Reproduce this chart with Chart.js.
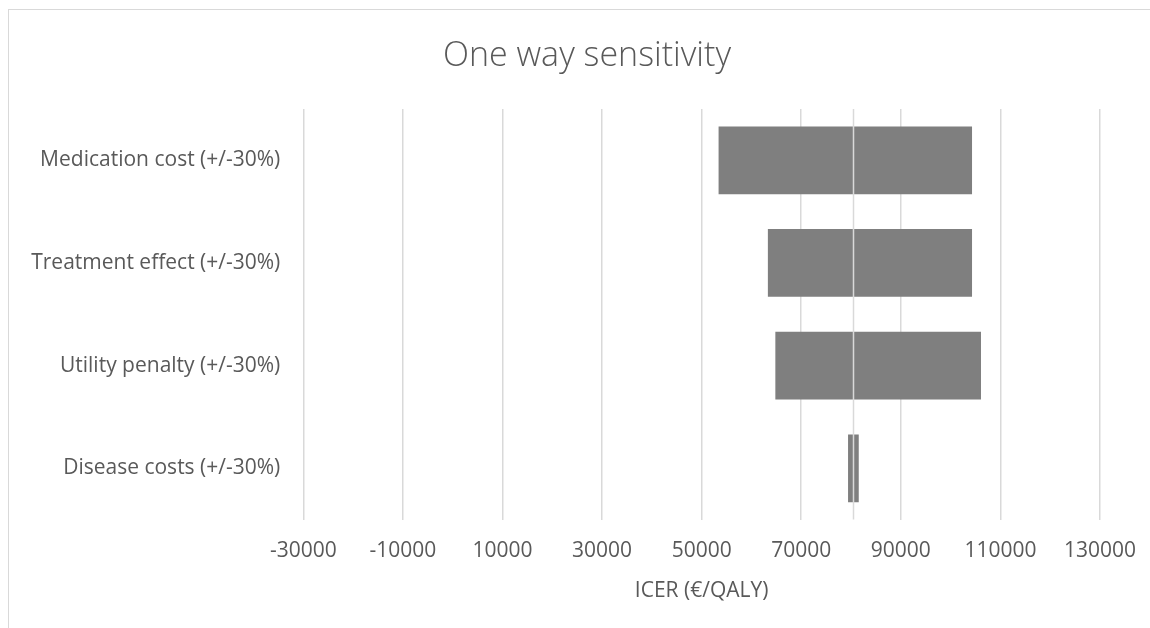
<!DOCTYPE html>
<html>
<head>
<meta charset="utf-8">
<script src="https://cdn.jsdelivr.net/npm/chart.js@4.4.1/dist/chart.umd.min.js"></script>
<style>
  html, body { margin: 0; padding: 0; background: #fff; overflow: hidden; }
  #wrap { position: relative; width: 1150px; height: 628px; }
  #frame { position: absolute; left: 8px; top: 9px; width: 1200px; height: 700px; border: 1px solid #d9d9d9; box-sizing: border-box; }
  canvas { position: absolute; left: 0; top: 0; }
</style>
</head>
<body>
<div id="wrap">
  <div id="frame"></div>
  <canvas id="chart" width="1150" height="628"></canvas>
</div>
<script>
// tornado data, ICER in €/QALY
const categories = [
  'Medication cost (+/-30%)',
  'Treatment effect (+/-30%)',
  'Utility penalty (+/-30%)',
  'Disease costs (+/-30%)'
];
const baseIcer = 80400;
const lowValues = [53400, 63300, 64800, 79400];
const highValues = [104300, 104300, 106100, 81550];
const axisMin = -30000;
const axisMax = 130000;
const axisStep = 20000;
const chartTitle = 'One way sensitivity';

const textColor = '#595959';
const barColor = '#7f7f7f';
const gridColor = '#d9d9d9';
const fontFamily = '"Open Sans", "Noto Sans", sans-serif';

// vertical category axis crossing at the base case, drawn over the bars like Excel does
const baseLine = {
  id: 'baseLine',
  afterDatasetsDraw(chart) {
    const x = Math.round(chart.scales.x.getPixelForValue(baseIcer)) + 0.5;
    const { top, bottom } = chart.chartArea;
    const ctx = chart.ctx;
    ctx.save();
    ctx.strokeStyle = gridColor;
    ctx.lineWidth = 1.5;
    ctx.beginPath();
    ctx.moveTo(x, top);
    ctx.lineTo(x, bottom);
    ctx.stroke();
    ctx.restore();
  }
};

// Excel centres the title on the whole chart frame (wider than the crop), not on the canvas
const frameTitle = {
  id: 'frameTitle',
  afterDraw(chart) {
    const ctx = chart.ctx;
    ctx.save();
    ctx.fillStyle = textColor;
    ctx.font = '300 34px ' + fontFamily;
    ctx.textAlign = 'center';
    ctx.textBaseline = 'alphabetic';
    ctx.fillText(chartTitle, 587, 66);
    ctx.restore();
  }
};

const ctx = document.getElementById('chart').getContext('2d');
new Chart(ctx, {
  type: 'bar',
  data: {
    labels: categories,
    datasets: [
      {
        label: 'Low',
        data: lowValues.map(v => [baseIcer, v]),
        backgroundColor: barColor,
        borderWidth: 0
      },
      {
        label: 'High',
        data: highValues.map(v => [baseIcer, v]),
        backgroundColor: barColor,
        borderWidth: 0
      }
    ]
  },
  options: {
    indexAxis: 'y',
    responsive: false,
    animation: false,
    layout: {
      padding: { left: 10, right: 50, top: 109, bottom: 24 }
    },
    datasets: {
      bar: {
        grouped: false,
        categoryPercentage: 0.66,
        barPercentage: 1
      }
    },
    scales: {
      x: {
        type: 'linear',
        min: axisMin,
        max: axisMax,
        ticks: {
          stepSize: axisStep,
          color: textColor,
          font: { family: fontFamily, size: 21 },
          padding: 19,
          callback: v => String(v)
        },
        grid: { color: gridColor, lineWidth: 1.5, drawTicks: false },
        border: { display: false },
        title: {
          display: true,
          text: 'ICER (€/QALY)',
          color: textColor,
          font: { family: fontFamily, size: 21 },
          padding: { top: -4, bottom: 0 }
        },
        // let the outer tick labels overhang into the layout padding
        afterFit(scale) {
          scale.paddingLeft = 0;
          scale.paddingRight = 0;
        }
      },
      y: {
        ticks: {
          color: textColor,
          font: { family: fontFamily, size: 21 },
          padding: 23
        },
        grid: { display: false, drawTicks: false },
        border: { display: false },
        afterFit(scale) { scale.width = 293.3; }
      }
    },
    plugins: {
      legend: { display: false },
      tooltip: { enabled: false },
      title: { display: false }
    }
  },
  plugins: [baseLine, frameTitle]
});
</script>
</body>
</html>
